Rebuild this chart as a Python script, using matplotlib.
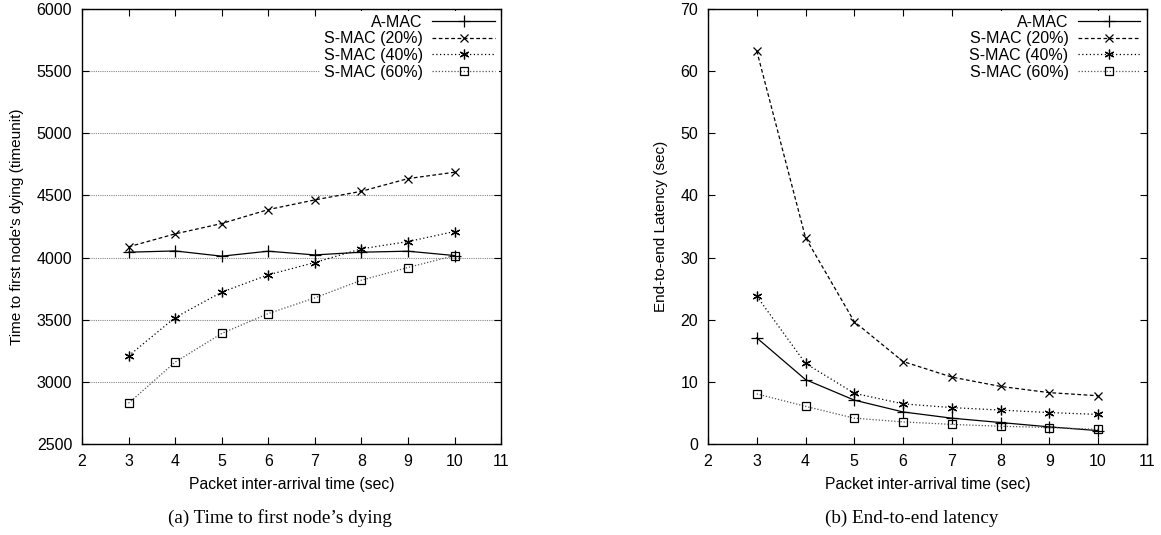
import matplotlib.pyplot as plt

plt.rcParams['font.family'] = ['Liberation Sans', 'DejaVu Sans']

interval = [3, 4, 5, 6, 7, 8, 9, 10]
series_names = ['A-MAC', 'S-MAC (20%)', 'S-MAC (40%)', 'S-MAC (60%)']

# time to first node's dying (timeunit)
lifetime_amac = [4043, 4053, 4011, 4051, 4021, 4043, 4051, 4016]
lifetime_s20 = [4086, 4190, 4273, 4385, 4463, 4532, 4634, 4685]
lifetime_s40 = [3210, 3518, 3722, 3861, 3960, 4070, 4128, 4209]
lifetime_s60 = [2830, 3160, 3390, 3550, 3676, 3818, 3920, 4016]

# end-to-end latency (sec)
latency_amac = [17.1, 10.4, 7.1, 5.2, 4.2, 3.5, 2.8, 2.2]
latency_s20 = [63.2, 33.2, 19.7, 13.3, 10.8, 9.3, 8.3, 7.8]
latency_s40 = [23.8, 13.0, 8.2, 6.5, 5.9, 5.5, 5.1, 4.8]
latency_s60 = [8.1, 6.1, 4.2, 3.6, 3.2, 2.9, 2.7, 2.4]

asterisk = (6, 2, 0)
styles = [
    dict(color='black', linestyle='-', marker='+', markersize=8),
    dict(color='black', linestyle=(0, (3, 2)), marker='x', markersize=6),
    dict(color='black', linestyle=(0, (1, 2)), marker=asterisk, markersize=7),
    dict(color='#555555', linestyle=(0, (1, 1.5)), marker='s', markersize=6,
         markerfacecolor='none', markeredgecolor='black'),
]

fig = plt.figure(figsize=(11.61, 5.35), dpi=100)
ax1 = fig.add_axes([0.0706, 0.1695, 0.361, 0.8146])
ax2 = fig.add_axes([0.6098, 0.1695, 0.378, 0.8146])


def draw(ax, data, ylim, yticks, ylabel, grid, ylabelpad):
    for name, ys, st in zip(series_names, data, styles):
        ax.plot(interval, ys, label=name, linewidth=0.9, markeredgewidth=0.9, **st)
    ax.set_xlim(2, 11)
    ax.set_xticks(range(2, 12))
    ax.set_ylim(*ylim)
    ax.set_yticks(yticks)
    if grid:
        ax.grid(axis='y', color='#888888', linestyle=(0, (1, 1)), linewidth=0.8)
        ax.set_axisbelow(True)
    ax.tick_params(direction='in', top=True, right=True, labelsize=11.5, length=5, width=0.8)
    ax.tick_params(axis='x', pad=7)
    ax.tick_params(axis='y', pad=7)
    ax.set_xlabel('Packet inter-arrival time (sec)', fontsize=11.3, labelpad=6)
    ax.set_ylabel(ylabel, fontsize=11, labelpad=ylabelpad)
    for sp in ax.spines.values():
        sp.set_linewidth(1.0)
    leg = ax.legend(loc='upper right', markerfirst=False, frameon=True, fontsize=11.5,
                    handlelength=3.9, borderaxespad=0.15, labelspacing=0.1,
                    handletextpad=0.6, borderpad=0.25, fancybox=False)
    leg.get_frame().set_edgecolor('none')
    leg.get_frame().set_facecolor('white')
    leg.get_frame().set_alpha(1)
    for t in leg.get_texts():
        t.set_ha('right')
    leg._legend_box.align = 'right'


draw(ax1, [lifetime_amac, lifetime_s20, lifetime_s40, lifetime_s60], (2500, 6000),
     range(2500, 6001, 500), "Time to first node's dying (timeunit)", True, 9)
draw(ax2, [latency_amac, latency_s20, latency_s40, latency_s60], (0, 70),
     range(0, 71, 10), 'End-to-end Latency (sec)', False, 9)

fig.text(0.2415, 0.032, "(a) Time to first node\u2019s dying", ha='center', va='center',
         fontsize=13.8, family=['Liberation Serif', 'DejaVu Serif'])
fig.text(0.785, 0.032, '(b) End-to-end latency', ha='center', va='center',
         fontsize=13.8, family=['Liberation Serif', 'DejaVu Serif'])

fig.savefig('out.png', dpi=100)
